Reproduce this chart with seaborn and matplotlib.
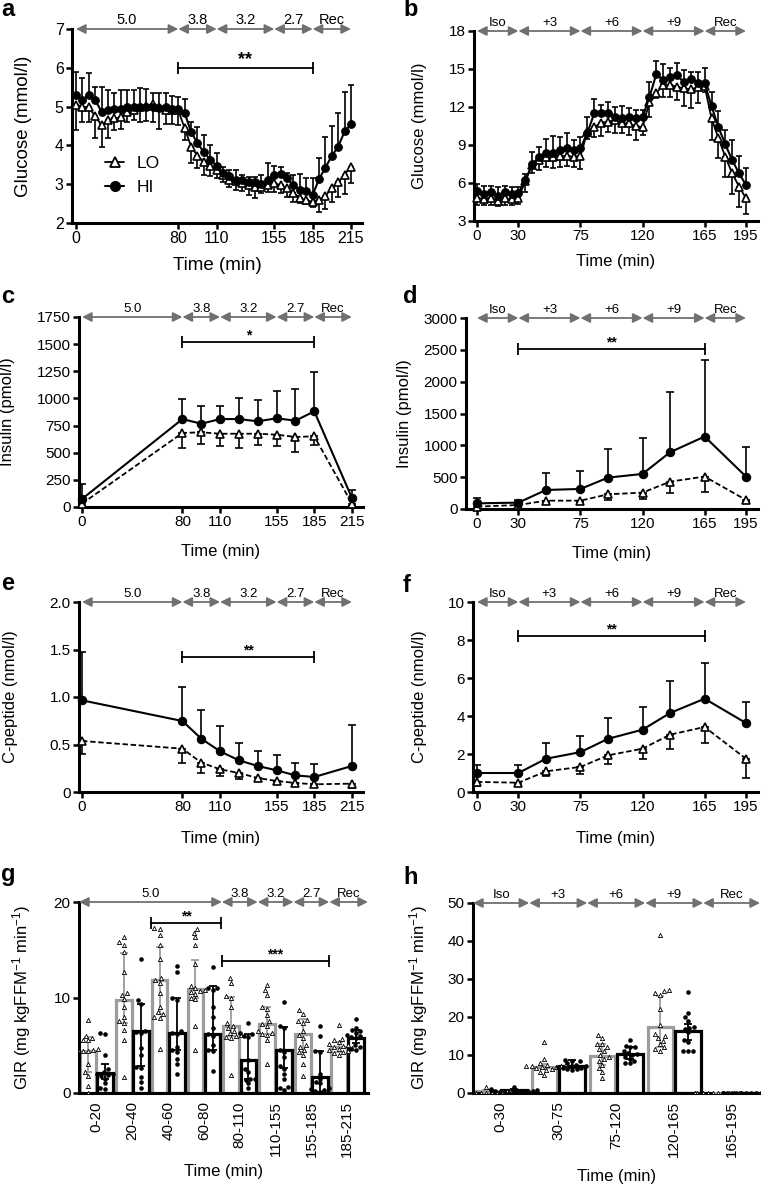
import numpy as np
import matplotlib
matplotlib.use("Agg")
import matplotlib.pyplot as plt
from matplotlib.lines import Line2D
import seaborn as sns

sns.set_theme(style="ticks")
plt.rcParams["font.family"] = ["Liberation Sans", "DejaVu Sans"]
plt.rcParams["mathtext.fontset"] = "custom"
plt.rcParams["mathtext.rm"] = "Liberation Sans"
plt.rcParams["mathtext.default"] = "regular"
for k in ["text.color", "axes.labelcolor", "xtick.color", "ytick.color", "axes.edgecolor"]:
    plt.rcParams[k] = "black"

# ---------------- data ----------------
# a: glucose, hypoglycaemic clamp (every 5 min)
time_a = [0, 5, 10, 15, 20, 25, 30, 35, 40, 45, 50, 55, 60, 65, 70, 75, 80, 85, 90, 95, 100, 105,
          110, 115, 120, 125, 130, 135, 140, 145, 150, 155, 160, 165, 170, 175, 180, 185, 190,
          195, 200, 205, 210, 215]
glc_a_hi = [5.30, 5.17, 5.30, 5.17, 4.87, 4.90, 4.93, 4.95, 4.98, 5.00, 4.98, 5.00, 5.00, 4.97, 5.00,
            4.95, 4.95, 4.83, 4.35, 4.05, 3.83, 3.63, 3.47, 3.30, 3.20, 3.10, 3.10, 3.05, 3.05, 3.00,
            3.10, 3.25, 3.27, 3.15, 2.97, 2.85, 2.83, 2.72, 3.13, 3.43, 3.73, 3.97, 4.36, 4.55]
glc_a_hi_up = [5.90, 5.73, 5.87, 5.51, 5.51, 5.44, 5.36, 5.43, 5.44, 5.44, 5.47, 5.45, 5.34, 5.34,
               5.34, 5.27, 5.26, 5.20, 4.61, 4.48, 4.27, 4.01, 3.80, 3.45, 3.37, 3.37, 3.24, 3.19,
               3.19, 3.24, 3.54, 3.47, 3.45, 3.28, 3.24, 3.26, 3.15, 3.15, 3.67, 4.21, 4.50, 4.83,
               5.38, 5.56]
glc_a_lo = [5.05, 5.00, 4.98, 4.75, 4.52, 4.65, 4.70, 4.72, 4.87, 4.92, 5.00, 5.02, 5.07, 5.00, 4.92,
            4.90, 4.90, 4.44, 3.97, 3.73, 3.58, 3.47, 3.37, 3.24, 3.11, 3.07, 3.02, 2.98, 2.94, 2.92,
            2.98, 3.02, 2.98, 2.89, 2.78, 2.65, 2.58, 2.55, 2.58, 2.70, 2.90, 3.05, 3.25, 3.45]
glc_a_lo_low = [4.40, 4.61, 4.61, 4.18, 3.97, 4.18, 4.40, 4.42, 4.61, 4.65, 4.60, 4.62, 4.60, 4.41,
                4.55, 4.55, 4.53, 4.14, 3.54, 3.41, 3.24, 3.21, 3.15, 3.06, 2.94, 2.86, 2.82, 2.72,
                2.64, 2.77, 2.79, 2.81, 2.77, 2.68, 2.55, 2.51, 2.49, 2.42, 2.29, 2.37, 2.55, 2.68,
                2.75, 3.02]

# b: glucose, hyperglycaemic clamp (every 5 min)
time_b = [0, 5, 10, 15, 20, 25, 30, 35, 40, 45, 50, 55, 60, 65, 70, 75, 80, 85, 90, 95, 100, 105,
          110, 115, 120, 125, 130, 135, 140, 145, 150, 155, 160, 165, 170, 175, 180, 185, 190, 195]
glc_b_hi = [5.40, 5.10, 5.30, 5.00, 5.30, 5.10, 5.20, 6.24, 7.47, 8.08, 8.39, 8.34, 8.60, 8.74, 8.60,
            8.74, 9.97, 11.50, 11.55, 11.55, 11.24, 11.10, 11.24, 11.10, 11.18, 12.80, 14.60, 14.13,
            14.40, 14.50, 13.95, 14.20, 13.92, 13.87, 12.08, 10.40, 9.05, 7.80, 6.76, 5.84]
glc_b_hi_up = [5.90, 5.80, 5.80, 5.70, 5.80, 5.70, 5.70, 6.74, 8.46, 8.87, 9.45, 9.70, 9.66, 9.92,
               9.40, 9.66, 11.24, 12.60, 12.16, 12.42, 12.03, 12.08, 11.90, 11.80, 11.76, 14.00,
               15.66, 15.40, 15.05, 15.50, 14.92, 14.79, 14.79, 15.05, 13.20, 11.70, 10.18, 9.40,
               8.13, 7.20]
glc_b_lo = [4.85, 4.70, 4.80, 4.60, 4.80, 4.70, 4.80, 6.16, 7.42, 7.82, 8.03, 8.03, 8.13, 8.13, 8.08,
            8.13, 10.05, 10.40, 10.76, 10.84, 10.97, 10.70, 10.70, 10.50, 10.40, 12.40, 13.10, 13.74,
            13.74, 13.60, 13.47, 13.40, 13.55, 13.66, 11.10, 9.53, 8.08, 6.76, 5.71, 4.79]
glc_b_lo_low = [4.30, 4.25, 4.25, 4.20, 4.30, 4.30, 4.35, 5.30, 6.80, 7.00, 7.30, 7.16, 7.30, 7.35,
                7.30, 7.08, 9.45, 9.60, 9.70, 10.05, 9.92, 9.92, 9.80, 9.40, 9.80, 11.24, 12.68,
                12.80, 12.80, 12.55, 12.08, 11.90, 12.30, 13.20, 9.40, 8.00, 6.50, 5.13, 4.13, 3.53]

# c, e: insulin / C-peptide, hypo clamp
time_ce = [0, 80, 95, 110, 125, 140, 155, 170, 185, 215]
ins_c_hi = [74, 810, 767, 810, 810, 789, 817, 795, 881, 83]
ins_c_hi_up = [212, 995, 933, 927, 1004, 989, 1065, 1087, 1240, 160]
ins_c_lo = [31, 682, 688, 675, 675, 675, 666, 645, 651, 31]
ins_c_lo_low = [5, 543, 580, 559, 543, 568, 559, 507, 574, 5]
cp_e_hi = [0.965, 0.747, 0.561, 0.428, 0.333, 0.274, 0.228, 0.175, 0.158, 0.274]
cp_e_hi_up = [1.474, 1.105, 0.860, 0.691, 0.512, 0.432, 0.393, 0.309, 0.298, 0.702]
cp_e_lo = [0.537, 0.456, 0.309, 0.239, 0.200, 0.147, 0.116, 0.095, 0.081, 0.088]
cp_e_lo_low = [0.404, 0.309, 0.200, 0.168, 0.133, 0.112, 0.090, 0.070, 0.060, 0.046]

# d, f: insulin / C-peptide, hyper clamp
time_df = [0, 30, 50, 75, 95, 120, 140, 165, 195]
ins_d_hi = [89, 100, 299, 315, 493, 551, 892, 1138, 509]
ins_d_hi_up = [168, 142, 561, 603, 939, 1112, 1830, 2334, 981]
ins_d_lo = [37, 63, 131, 131, 231, 257, 430, 509, 142]
ins_d_lo_low = [5, 10, 89, 100, 142, 152, 246, 273, 115]
cp_f_hi = [1.00, 1.00, 1.75, 2.10, 2.80, 3.28, 4.16, 4.91, 3.63]
cp_f_hi_up = [1.44, 1.44, 2.58, 2.95, 3.89, 4.47, 5.84, 6.79, 4.74]
cp_f_lo = [0.53, 0.49, 1.09, 1.32, 1.93, 2.28, 3.02, 3.42, 1.75]
cp_f_lo_low = [0.30, 0.35, 0.85, 0.96, 1.46, 1.75, 2.28, 2.58, 0.75]

# g: GIR hypo clamp (median, IQR, individuals)
periods_g = ["0-20", "20-40", "40-60", "60-80", "80-110", "110-155", "155-185", "185-215"]
gir_g_lo_med = [4.4, 9.7, 11.8, 10.9, 7.0, 7.2, 6.2, 4.8]
gir_g_lo_q1 = [2.2, 7.3, 8.3, 9.9, 6.0, 6.2, 4.3, 4.3]
gir_g_lo_q3 = [5.9, 14.7, 15.3, 13.9, 10.1, 9.0, 7.8, 5.3]
gir_g_hi_med = [2.1, 6.5, 6.3, 6.2, 3.5, 4.5, 1.7, 5.8]
gir_g_hi_q1 = [1.5, 2.8, 4.5, 4.5, 1.5, 2.6, 0.1, 5.2]
gir_g_hi_q3 = [3.0, 9.3, 9.9, 11.2, 6.2, 6.9, 4.4, 6.6]
gir_g_lo_pts = [
    [7.6, 6.0, 5.8, 5.6, 5.5, 4.6, 4.5, 4.5, 4.4, 4.4, 3.0, 2.2, 1.8, 0.7, 0.0],
    [16.3, 15.8, 15.5, 14.8, 12.7, 10.5, 10.3, 9.8, 9.0, 8.0, 7.5, 7.3, 6.6, 5.6, 1.7],
    [17.3, 17.2, 16.5, 15.5, 14.0, 12.0, 11.8, 11.5, 10.5, 9.0, 8.5, 8.3, 8.0, 7.9, 4.6],
    [17.2, 16.8, 16.3, 15.5, 13.5, 11.2, 11.0, 10.8, 10.7, 10.6, 10.4, 10.0, 9.8, 7.0, 4.5],
    [12.0, 11.5, 10.2, 10.0, 9.0, 7.3, 7.0, 6.8, 6.5, 6.3, 6.1, 6.0, 5.9, 5.8, 1.9],
    [11.3, 10.8, 10.3, 9.0, 8.8, 8.2, 7.5, 7.2, 7.0, 6.5, 6.3, 6.2, 6.1, 5.5, 3.0],
    [8.7, 8.3, 7.6, 7.5, 7.3, 6.5, 6.1, 5.8, 5.0, 4.8, 4.5, 4.3, 4.0, 3.0, 1.8],
    [7.1, 5.7, 5.5, 5.3, 5.1, 5.0, 4.9, 4.8, 4.7, 4.6, 4.5, 4.4, 4.3, 4.2, 4.0],
]
gir_g_hi_pts = [
    [6.3, 6.2, 4.0, 2.5, 2.2, 2.0, 2.0, 1.9, 1.8, 1.5, 1.0, 0.5, 0.4],
    [14.0, 9.7, 9.3, 6.5, 6.4, 6.3, 4.7, 4.0, 2.7, 2.6, 1.7, 1.2, 0.5],
    [13.3, 12.7, 9.9, 9.7, 6.5, 6.3, 6.2, 4.8, 4.5, 4.3, 3.6, 3.0, 2.0],
    [13.2, 11.0, 11.0, 10.8, 9.0, 8.0, 6.8, 6.2, 6.0, 5.0, 4.5, 4.4, 2.3],
    [7.3, 6.3, 6.2, 6.0, 5.9, 3.5, 2.5, 2.2, 1.5, 1.5, 1.4, 1.0, 0.5],
    [9.5, 7.0, 6.8, 4.5, 4.3, 3.8, 2.8, 2.5, 2.0, 1.5, 0.6, 0.5, 0.3],
    [7.0, 6.0, 4.4, 4.3, 2.0, 1.5, 1.2, 1.0, 0.5, 0.4, 0.3, 0.2, 0.1],
    [7.8, 6.8, 6.6, 6.5, 6.3, 6.1, 6.0, 5.9, 5.8, 5.0, 4.8, 4.6, 4.5],
]

# h: GIR hyper clamp
periods_h = ["0-30", "30-75", "75-120", "120-165", "165-195"]
gir_h_lo_med = [0.5, 6.9, 9.8, 17.3, 0.0]
gir_h_lo_q1 = [0.0, 6.3, 7.5, 12.0, 0.0]
gir_h_lo_q3 = [0.9, 7.6, 12.8, 25.4, 0.0]
gir_h_hi_med = [0.7, 7.2, 10.3, 16.3, 0.0]
gir_h_hi_q1 = [0.2, 6.5, 9.0, 14.0, 0.0]
gir_h_hi_q3 = [1.0, 8.6, 12.2, 18.2, 0.0]
gir_h_lo_pts = [
    [1.5, 1.0, 0.8, 0.6, 0.5, 0.5, 0.4, 0.3, 0.2, 0.1, 0.0, 0.0, 0.0, 0.0, 0.0],
    [13.5, 9.0, 8.0, 7.6, 7.4, 7.2, 7.1, 7.0, 6.9, 6.8, 6.5, 6.3, 6.0, 5.5, 4.8],
    [15.2, 14.5, 13.0, 12.8, 12.0, 11.5, 11.0, 10.0, 9.5, 9.0, 8.5, 7.5, 6.5, 5.5, 4.0],
    [41.5, 27.0, 26.8, 26.2, 25.8, 22.0, 18.0, 15.5, 15.0, 14.5, 13.8, 12.8, 12.0, 11.5, 11.0],
    [0.0] * 15,
]
gir_h_hi_pts = [
    [1.7, 1.0, 0.9, 0.8, 0.6, 0.5, 0.4, 0.3, 0.2, 0.1, 0.0, 0.0, 0.0],
    [8.8, 8.5, 8.3, 7.8, 7.5, 7.2, 7.0, 6.8, 6.6, 6.5, 6.3, 6.2, 6.0],
    [14.0, 12.5, 12.2, 12.0, 11.0, 10.5, 10.3, 10.0, 9.5, 9.0, 8.5, 8.0, 7.8],
    [26.7, 21.0, 20.0, 19.0, 17.5, 17.2, 16.8, 16.0, 14.0, 13.5, 11.0, 11.0, 11.0],
    [0.0] * 13,
]

# phases shown on top of each panel
phase_hypo = ["5.0", "3.8", "3.2", "2.7", "Rec"]
phase_hyper = ["Iso", "+3", "+6", "+9", "Rec"]
edges_hypo = [0, 80, 110, 155, 185, 215]
edges_hyper = [0, 30, 75, 120, 165, 195]

# ---------------- figure ----------------
W, H = 761, 1189
fig = plt.figure(figsize=(W / 100, H / 100), dpi=100)

def add_ax(l, t, r, b):
    return fig.add_axes([l / W, 1 - b / H, (r - l) / W, (b - t) / H])

GRAY = "#9c9c9c"
ARROW = "#707070"

def style(ax, fs):
    for s in ["top", "right"]:
        ax.spines[s].set_visible(False)
    for s in ["left", "bottom"]:
        ax.spines[s].set_linewidth(2.2)
        ax.spines[s].set_color("black")
    ax.tick_params(axis="both", length=4, width=1.8, labelsize=fs, pad=2, color="black")

def phases(ax, edges, labels, fs):
    tr = ax.get_xaxis_transform()
    for x0, x1, lab in zip(edges[:-1], edges[1:], labels):
        ax.annotate("", xy=(x1, 1), xytext=(x0, 1), xycoords=tr, textcoords=tr,
                    arrowprops=dict(arrowstyle="<|-|>", color=ARROW, lw=1.3, shrinkA=0,
                                    shrinkB=0, mutation_scale=14), annotation_clip=False)
        ax.annotate(lab, xy=((x0 + x1) / 2, 1), xycoords=tr, xytext=(0, 1.5),
                    textcoords="offset points", ha="center", va="bottom", fontsize=fs,
                    annotation_clip=False)

def sig(ax, x0, x1, y, stars, fs):
    ax.plot([x0, x1], [y, y], color="black", lw=1.3, marker="|", markersize=8, mew=1.3,
            clip_on=False)
    ax.annotate(stars, xy=((x0 + x1) / 2, y), xytext=(0, 0), textcoords="offset points",
                ha="center", va="bottom", fontsize=fs, fontweight="bold")

def line_panel(ax, t, hi, hi_up, lo, lo_low, dashed, ms, cap):
    hi, hi_up, lo, lo_low = map(np.asarray, (hi, hi_up, lo, lo_low))
    z = np.zeros(len(t))
    ax.errorbar(t, hi, yerr=[z, hi_up - hi], fmt="none", ecolor="black", elinewidth=1.2,
                capsize=cap, capthick=1.2, zorder=2, clip_on=False)
    ax.errorbar(t, lo, yerr=[lo - lo_low, z], fmt="none", ecolor="black", elinewidth=1.2,
                capsize=cap, capthick=1.2, zorder=2, clip_on=False)
    sns.lineplot(x=t, y=lo, ax=ax, color="black", lw=1.3, marker="^", markersize=ms,
                 markerfacecolor="white", markeredgecolor="black", markeredgewidth=1.2,
                 linestyle=(0, (3, 1.5)) if dashed else "-", zorder=3, clip_on=False)
    sns.lineplot(x=t, y=hi, ax=ax, color="black", lw=1.5, marker="o", markersize=ms,
                 markeredgecolor="black", markeredgewidth=0.8, zorder=4, clip_on=False)

def bar_panel(ax, periods, lo_stats, hi_stats, lo_pts, hi_pts):
    idx = np.arange(len(periods))
    for off, (med, q1, q3), pts, col, mk, face, sz in [
            (-0.24, lo_stats, lo_pts, GRAY, "^", "white", 3.0),
            (0.24, hi_stats, hi_pts, "black", "o", "black", 3.3)]:
        pos = idx + off
        med, q1, q3 = map(np.asarray, (med, q1, q3))
        sns.barplot(x=pos, y=med, native_scale=True, orient="x", width=0.44, fill=False,
                    color=col, saturation=1, linewidth=2.3, errorbar=None, ax=ax, zorder=2)
        ax.errorbar(pos, med, yerr=[med - q1, q3 - med], fmt="none", ecolor=col,
                    elinewidth=1.3, capsize=3, capthick=1.3, zorder=3)
        px = np.concatenate([[p] * len(v) for p, v in zip(pos, pts)])
        py = np.concatenate(pts)
        sns.swarmplot(x=px, y=py, native_scale=True, orient="x", marker=mk, color=face,
                      edgecolor="black", linewidth=0.6 if mk == "^" else 0, size=sz, ax=ax,
                      zorder=5, warn_thresh=1)
    ax.set_xticks(idx)
    ax.set_xticklabels(periods, rotation=90)
    ax.tick_params(axis="x", length=0, pad=6)

def finish(ax, xlim, ylim, yticks, ylabel, xlab_y, ylab_x, lab_fs, yticklabels=None):
    ax.set_xlim(*xlim)
    ax.set_ylim(*ylim)
    ax.set_yticks(yticks)
    if yticklabels is not None:
        ax.set_yticklabels(yticklabels)
    ax.set_xlabel("Time (min)", fontsize=lab_fs)
    ax.set_ylabel(ylabel, fontsize=lab_fs)
    ax.xaxis.set_label_coords(0.5, xlab_y)
    ax.yaxis.set_label_coords(ylab_x, 0.5)

# a
ax = add_ax(72, 29, 362, 223)
style(ax, 11.5)
line_panel(ax, time_a, glc_a_hi, glc_a_hi_up, glc_a_lo, glc_a_lo_low, False, 5.5, 2.2)
ax.set_xticks([0, 80, 110, 155, 185, 215])
finish(ax, (-3.1, 223.6), (2, 7), [2, 3, 4, 5, 6, 7], "Glucose (mmol/l)", -0.175, -0.138, 13.5)
phases(ax, edges_hypo, phase_hypo, 10.5)
sig(ax, 80, 185, 5.99, "**", 13)
handles = [Line2D([], [], color="black", lw=1.3, marker="^", markersize=7, mfc="white",
                  mec="black", mew=1.3),
           Line2D([], [], color="black", lw=1.5, marker="o", markersize=7, mec="black")]
ax.legend(handles, ["LO", "HI"], loc="upper left", bbox_to_anchor=(0.09, 0.38), frameon=False,
          fontsize=12.5, handlelength=1.1, handletextpad=0.7, labelspacing=0.5, borderaxespad=0)

# b
ax = add_ax(474, 31, 758, 221)
style(ax, 11)
line_panel(ax, time_b, glc_b_hi, glc_b_hi_up, glc_b_lo, glc_b_lo_low, False, 5.5, 2.2)
ax.set_xticks([0, 30, 75, 120, 165, 195])
finish(ax, (-2.2, 203.7), (3, 18), [3, 6, 9, 12, 15, 18], "Glucose (mmol/l)", -0.174, -0.165, 12)
phases(ax, edges_hyper, phase_hyper, 9.5)

# c
ax = add_ax(79, 317, 363, 507)
style(ax, 11)
line_panel(ax, time_ce, ins_c_hi, ins_c_hi_up, ins_c_lo, ins_c_lo_low, True, 6, 3.2)
ax.set_xticks([0, 80, 110, 155, 185, 215])
finish(ax, (-2.4, 223.8), (0, 1750), list(range(0, 1751, 250)), "Insulin (pmol/l)", -0.195,
       -0.225, 12)
phases(ax, edges_hypo, phase_hypo, 9.5)
sig(ax, 80, 185, 1517, "*", 10)

# d
ax = add_ax(466, 318, 758, 509)
style(ax, 11)
line_panel(ax, time_df, ins_d_hi, ins_d_hi_up, ins_d_lo, ins_d_lo_low, True, 6, 3.2)
ax.set_xticks([0, 30, 75, 120, 165, 195])
finish(ax, (-8.0, 203.7), (0, 3000), list(range(0, 3001, 500)), "Insulin (pmol/l)", -0.194,
       -0.185, 12)
phases(ax, edges_hyper, phase_hyper, 9.5)
sig(ax, 30, 165, 2512, "**", 10)

# e
ax = add_ax(79, 602, 363, 792)
style(ax, 11)
line_panel(ax, time_ce, cp_e_hi, cp_e_hi_up, cp_e_lo, cp_e_lo_low, True, 6, 3.2)
ax.set_xticks([0, 80, 110, 155, 185, 215])
finish(ax, (-2.4, 223.8), (0, 2), [0, 0.5, 1, 1.5, 2], "C-peptide (nmol/l)", -0.205, -0.215, 12,
       ["0", "0.5", "1.0", "1.5", "2.0"])
phases(ax, edges_hypo, phase_hypo, 9.5)
sig(ax, 80, 185, 1.42, "**", 10)

# f
ax = add_ax(473, 602, 758, 792)
style(ax, 11)
line_panel(ax, time_df, cp_f_hi, cp_f_hi_up, cp_f_lo, cp_f_lo_low, True, 6, 3.2)
ax.set_xticks([0, 30, 75, 120, 165, 195])
finish(ax, (-2.9, 203.7), (0, 10), [0, 2, 4, 6, 8, 10], "C-peptide (nmol/l)", -0.205, -0.161, 12)
phases(ax, edges_hyper, phase_hyper, 9.5)
sig(ax, 30, 165, 8.2, "**", 10)

gir_label = "GIR (mg kgFFM$^{-1}$ min$^{-1}$)"

# g
ax = add_ax(79, 902, 368, 1093)
style(ax, 11)
bar_panel(ax, periods_g, (gir_g_lo_med, gir_g_lo_q1, gir_g_lo_q3),
          (gir_g_hi_med, gir_g_hi_q1, gir_g_hi_q3), gir_g_lo_pts, gir_g_hi_pts)
finish(ax, (-0.49, 7.58), (0, 20), [0, 10, 20], gir_label, -0.372, -0.159, 12)
phases(ax, [-0.49, 3.5, 4.5, 5.5, 6.5, 7.58], phase_hypo, 9.5)
sig(ax, 1.52, 3.48, 17.8, "**", 10)
sig(ax, 3.5, 6.48, 13.8, "***", 10)

# h
ax = add_ax(473, 903, 760, 1093)
style(ax, 11)
bar_panel(ax, periods_h, (gir_h_lo_med, gir_h_lo_q1, gir_h_lo_q3),
          (gir_h_hi_med, gir_h_hi_q1, gir_h_hi_q3), gir_h_lo_pts, gir_h_hi_pts)
finish(ax, (-0.47, 4.48), (0, 50), [0, 10, 20, 30, 40, 50], gir_label, -0.40, -0.15, 12)
phases(ax, [-0.47, 0.5, 1.5, 2.5, 3.5, 4.48], phase_hyper, 9.5)

# panel letters
for lab, x, y in [("a", 1, 16), ("b", 403, 16), ("c", 1, 303), ("d", 403, 303),
                  ("e", 1, 590), ("f", 403, 592), ("g", 1, 881), ("h", 403, 884)]:
    fig.text(x / W, 1 - y / H, lab, fontsize=17, fontweight="bold", ha="left", va="baseline")

fig.savefig("out.png", dpi=100)
